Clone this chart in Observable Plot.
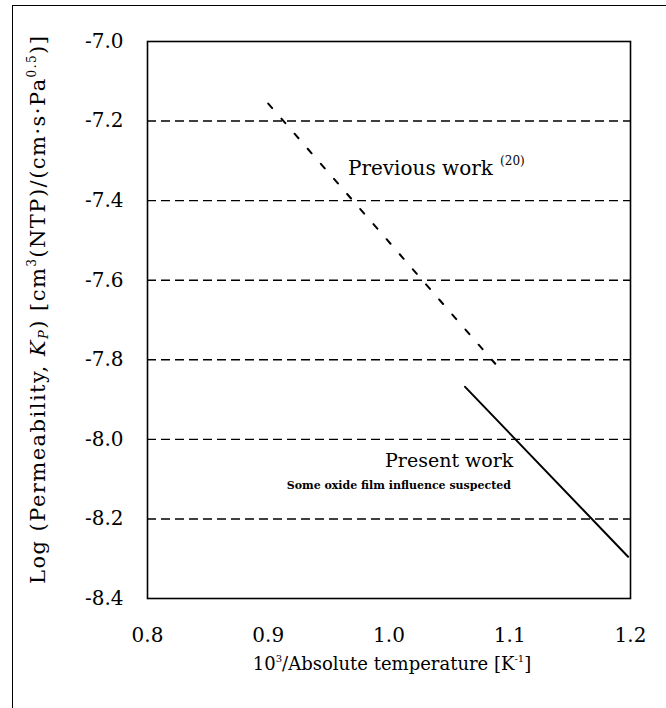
<!DOCTYPE html>
<html><head><meta charset="utf-8">
<script src="https://cdn.jsdelivr.net/npm/d3@7"></script>
<script src="https://cdn.jsdelivr.net/npm/@observablehq/plot@0.6"></script>
<style>
html,body{margin:0;padding:0;background:#fff;overflow:hidden}
#wrap{position:relative;width:666px;height:708px;overflow:hidden}
#border{position:absolute;left:12px;top:5px;width:720px;height:760px;border-left:1.5px solid #000;border-top:1.5px solid #000}
#chart{position:absolute;left:0;top:0}
</style></head><body>
<div id="wrap"><div id="border"></div><div id="chart"></div></div>
<script>
const xTicks = [0.8, 0.9, 1.0, 1.1, 1.2];
const yTicks = [-7.0, -7.2, -7.4, -7.6, -7.8, -8.0, -8.2, -8.4];
const gridLevels = [-7.2, -7.4, -7.6, -7.8, -8.0, -8.2];
const previousX = [0.900, 1.088];
const previousY = [-7.156, -7.810];
const presentX = [1.063, 1.198];
const presentY = [-7.868, -8.295];
const previousLabel = {x: 0.966, y: -7.336, text: "Previous work"};
const previousRef = {x: 1.092, y: -7.311, text: "(20)"};
const presentLabel = {x: 1.103, y: -8.069, text: "Present work"};
const noteLabel = {x: 1.101, y: -8.124, text: "Some oxide film influence suspected"};

const previous = previousX.map((x, i) => ({x, y: previousY[i]}));
const present = presentX.map((x, i) => ({x, y: presentY[i]}));
const FONT = "DejaVu Serif";

const chart = Plot.plot({
  width: 666, height: 708,
  marginLeft: 147, marginRight: 36, marginTop: 41, marginBottom: 110,
  style: {fontFamily: FONT, background: "transparent", color: "#000"},
  x: {domain: [0.8, 1.2]},
  y: {domain: [-8.4, -7.0]},
  marks: [
    Plot.ruleY(gridLevels, {stroke: "#000", strokeWidth: 1.4, strokeDasharray: "9,5"}),
    Plot.frame({stroke: "#000", strokeWidth: 1.6}),
    Plot.line(previous, {x: "x", y: "y", stroke: "#000", strokeWidth: 2, strokeDasharray: "6,14"}),
    Plot.line(present, {x: "x", y: "y", stroke: "#000", strokeWidth: 2}),
    Plot.axisX({ticks: xTicks, tickFormat: d => d.toFixed(1), tickSize: 0, tickPadding: 29, fontSize: 20, label: null}),
    Plot.axisY({ticks: yTicks, tickFormat: d => d.toFixed(1), tickSize: 0, tickPadding: 24, fontSize: 20, label: null}),
    Plot.text([previousLabel], {x: "x", y: "y", text: "text", textAnchor: "start", lineAnchor: "bottom", fontSize: 20}),
    Plot.text([previousRef], {x: "x", y: "y", text: "text", textAnchor: "start", lineAnchor: "bottom", fontSize: 12}),
    Plot.text([presentLabel], {x: "x", y: "y", text: "text", textAnchor: "end", lineAnchor: "bottom", fontSize: 19}),
    Plot.text([noteLabel], {x: "x", y: "y", text: "text", textAnchor: "end", lineAnchor: "bottom", fontSize: 11, fontWeight: "bold"})
  ]
});
document.getElementById("chart").appendChild(chart);

const svg = d3.select(chart);
// x axis title
const xt = svg.append("text").attr("x", 392).attr("y", 670).attr("text-anchor", "middle")
  .attr("font-family", FONT).attr("font-size", 18).attr("fill", "#000");
xt.append("tspan").text("10");
xt.append("tspan").attr("font-size", 10).attr("dy", -8).text("3");
xt.append("tspan").attr("dy", 8).text("/Absolute temperature [K");
xt.append("tspan").attr("font-size", 10).attr("dy", -8).text("-1");
xt.append("tspan").attr("dy", 8).text("]");
// y axis title
const yt = svg.append("text").attr("transform", "translate(45,310) rotate(-90)").attr("text-anchor", "middle")
  .attr("font-family", FONT).attr("font-size", 21).attr("fill", "#000")
  .attr("textLength", 548).attr("lengthAdjust", "spacing");
yt.append("tspan").text("Log (Permeability, ");
yt.append("tspan").attr("font-style", "italic").text("K");
yt.append("tspan").attr("font-style", "italic").attr("font-size", 13).attr("dy", 3).text("P");
yt.append("tspan").attr("dy", -3).text(") [cm");
yt.append("tspan").attr("font-size", 12).attr("dy", -9).text("3");
yt.append("tspan").attr("dy", 9).text("(NTP)/(cm·s·Pa");
yt.append("tspan").attr("font-size", 12).attr("dy", -9).text("0.5");
yt.append("tspan").attr("dy", 9).text(")]");
</script>
</body></html>
